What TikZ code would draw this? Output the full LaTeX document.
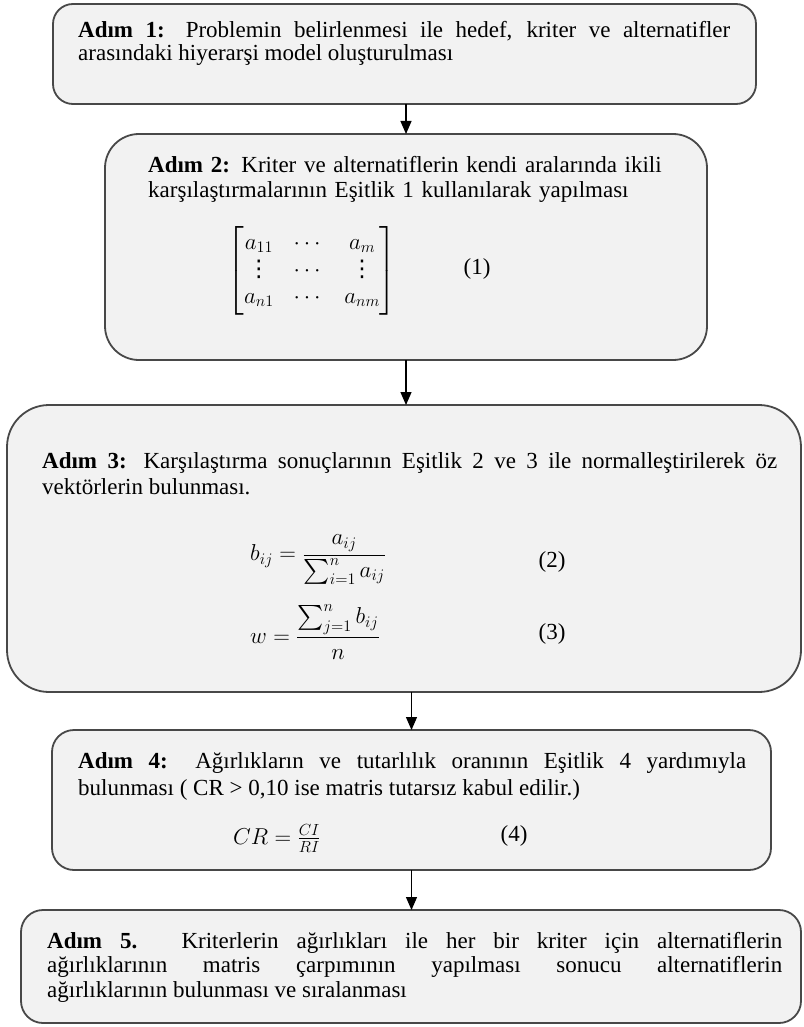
\RequirePackage{fix-cm}
\documentclass[tikz,border=0pt]{standalone}
\usepackage{amsmath}
\usepackage{fontspec}
\setmainfont{Liberation Serif}
\newfontfamily\dotsfont{DejaVu Sans}
\usepackage{xcolor}
\usepackage{tikz}
\usetikzlibrary{shapes,arrows.meta,positioning,calc}

\definecolor{boxfill}{RGB}{242,242,242}
\definecolor{boxline}{RGB}{72,72,72}

% text size is the same in all steps, only the line distance changes
\newcommand{\stepfont}[1]{\fontsize{23}{#1}\selectfont}
\newcommand{\colvdots}{\text{\dotsfont ⋮}}

\tolerance=10000
\hyphenpenalty=10000

\tikzset{
  stepbox/.style={draw=boxline, line width=1.8pt, fill=boxfill, inner sep=0pt, outer sep=0pt},
  steptext/.style={anchor=base west, inner sep=0pt, align=justify},
  eqn/.style={inner sep=0pt, font={\stepfont{27}}},
  flow/.style={-{Triangle[length=13pt,width=11pt]}, line width=1.2pt},
}

\begin{document}
\begin{tikzpicture}[x=1pt, y=-1pt]
\useasboundingbox (0,0) rectangle (803,1027);

% Boxes
\node[stepbox, minimum width=703pt, minimum height=100pt, rounded corners=20pt] (b1) at (404.5,54) {};
\node[stepbox, minimum width=602pt, minimum height=226pt, rounded corners=34pt] (b2) at (406,247) {};
\node[stepbox, minimum width=794pt, minimum height=287pt, rounded corners=42pt] (b3) at (404,548.5) {};
\node[stepbox, minimum width=719pt, minimum height=140pt, rounded corners=22pt] (b4) at (411.5,800) {};
\node[stepbox, minimum width=780pt, minimum height=113pt, rounded corners=22pt] (b5) at (411,966.5) {};

% Step texts
\node[steptext, text width=652pt, font={\stepfont{23}}] (t1) at (78,38) {%
  \textbf{Adım 1:} Problemin belirlenmesi ile hedef, kriter ve alternatifler\linebreak
  arasındaki hiyerarşi model oluşturulması};

\node[steptext, text width=545pt, align=left, font={\stepfont{25}}] (t2) at (148,172) {%
  \textbf{Adım 2:} Kriter ve alternatiflerin kendi aralarında ikili\\
  karşılaştırmalarının Eşitlik 1 kullanılarak yapılması};

\node[steptext, text width=735pt, font={\stepfont{26}}] (t3) at (42,468) {%
  \textbf{Adım 3:} Karşılaştırma sonuçlarının Eşitlik 2 ve 3 ile normalleştirilerek öz\linebreak
  vektörlerin bulunması.};

\node[steptext, text width=668pt, font={\stepfont{27}}] (t4) at (78,768) {%
  \textbf{Adım 4:} Ağırlıkların ve tutarlılık oranının Eşitlik 4 yardımıyla\linebreak
  bulunması ( CR > 0,10 ise matris tutarsız kabul edilir.)};

\node[steptext, text width=735pt, font={\stepfont{24.5}}] (t5) at (47,948) {%
  \textbf{Adım 5.} Kriterlerin ağırlıkları ile her bir kriter için alternatiflerin\linebreak
  ağırlıklarının matris çarpımının yapılması sonucu alternatiflerin\linebreak
  ağırlıklarının bulunması ve sıralanması};

% Equations
\node[eqn] (m1) at (312,271) {\setlength{\arraycolsep}{10pt}$\begin{bmatrix}
  a_{11} & \cdots & a_{m}\\
  \colvdots & \cdots & \colvdots\\
  a_{n1} & \cdots & a_{nm}
\end{bmatrix}$};
\node[eqn] (n1) at (477,269) {(1)};

\node[eqn, anchor=west] (m2) at (250,560) {$\displaystyle b_{ij}=\frac{a_{ij}}{\sum_{i=1}^{n}a_{ij}}$};
\node[eqn] (n2) at (552,562) {(2)};

\node[eqn, anchor=west] (m3) at (250,632) {$\displaystyle w=\frac{\sum_{j=1}^{n}b_{ij}}{n}$};
\node[eqn] (n3) at (552,634) {(3)};

\node[eqn, anchor=west] (m4) at (233,838) {$CR=\frac{CI}{RI}$};
\node[eqn] (n4) at (514,836) {(4)};

% Arrows between steps
\draw[flow] (b1.south -| b2.north) -- (b2.north);
\draw[flow] (b2.south) -- (b2.south |- b3.north);
\draw[flow] (b3.south -| b4.north) -- (b4.north);
\draw[flow] (b4.south) -- (b4.south |- b5.north);

\end{tikzpicture}
\end{document}
